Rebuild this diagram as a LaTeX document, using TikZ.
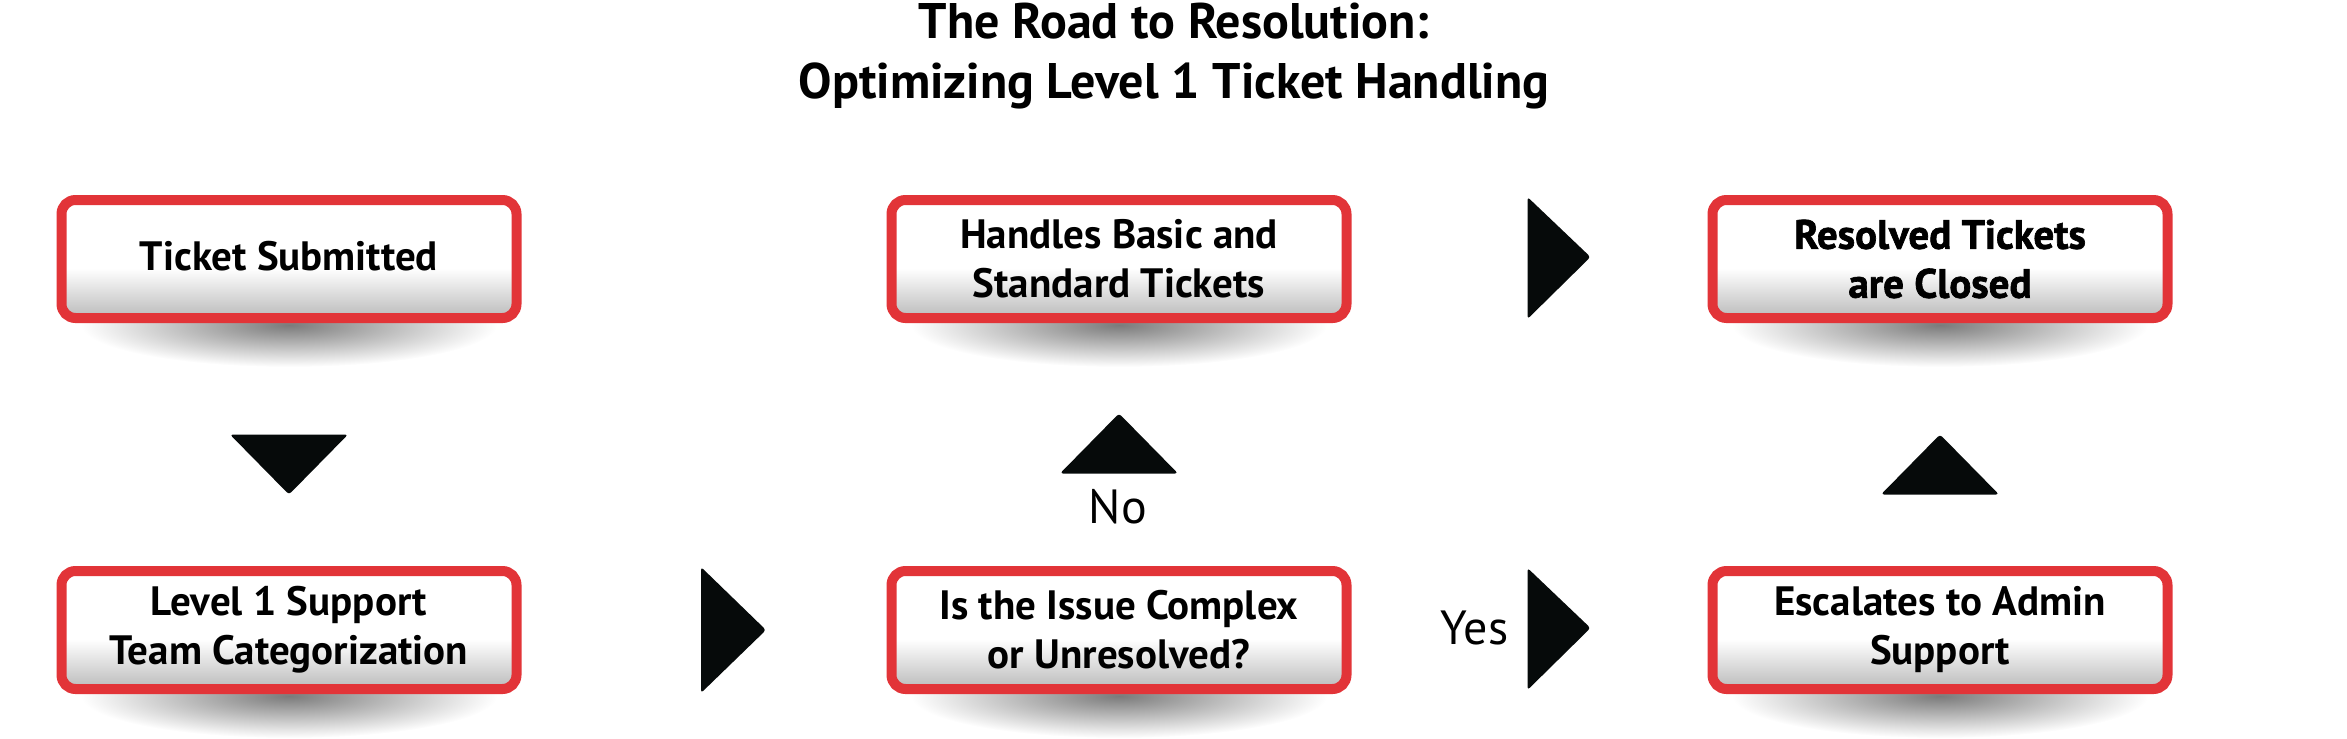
\documentclass[tikz,border=0pt]{standalone}
\usepackage{fontspec}
\setmainfont{PT Sans}
\newfontfamily\heavyfont[BoldFeatures={FakeBold=1.6}]{PT Sans}
\usetikzlibrary{calc,backgrounds}
\definecolor{boxred}{RGB}{226,52,56}
\definecolor{arrowblack}{RGB}{6,10,10}
\pgfdeclareverticalshading{boxfill}{100bp}{color(0bp)=(black!27); color(25bp)=(black!27);
  color(46bp)=(white); color(100bp)=(white)}

\tikzset{
  stepbox/.style={rectangle, rounded corners=7pt, draw=boxred, line width=5pt,
    shading=boxfill, minimum width=227.5pt, minimum height=59pt, align=center, text=black,
    font=\fontsize{20.5}{24.5}\selectfont\bfseries},
  pointer/.style={fill=arrowblack, rounded corners=1.5pt},
  answer/.style={font=\fontsize{24}{26}\selectfont, text=black}
}

\begin{document}
\begin{tikzpicture}[x=0.5pt, y=-0.5pt]
  \useasboundingbox (0,0) rectangle (2347,739);
  \node[font=\fontsize{25}{30}\selectfont\bfseries, align=center] (title) at (1174,56)
    {The Road to Resolution:\\Optimizing Level 1 Ticket Handling};

  % boxes
  \node[stepbox] (ticket) at (289,259) {\raisebox{3pt}{Ticket Submitted}};
  \node[stepbox] (handles) at (1119,259) {Handles Basic and\\Standard Tickets};
  \node[stepbox, font=\fontsize{20.5}{24.5}\selectfont\heavyfont\bfseries] (closed) at (1940,259)
    {Resolved Tickets\\are Closed};
  \node[stepbox] (level) at (289,630) {Level 1 Support\\Team Categorization};
  \node[stepbox] (complex) at (1119,630) {Is the Issue Complex\\or Unresolved?};
  \node[stepbox] (escalate) at (1940,630) {Escalates to Admin\\Support};

  % shadows under the boxes
  \begin{scope}[on background layer]
    \foreach \b in {ticket,handles,closed,level,complex,escalate}
      \shade[inner color=black!52, outer color=white] ($(\b.south)+(0,2)$) ellipse (104pt and 21pt);
  \end{scope}

  % pointers
  \coordinate (p1) at ($(ticket.south)!0.5!(level.north)$);
  \coordinate (p2) at ($(level.east)!0.5!(complex.west)$);
  \coordinate (p3) at ($(complex.north)!0.5!(handles.south)$);
  \coordinate (p4) at ($(complex.east)!0.5!(escalate.west)$);
  \coordinate (p5) at ($(handles.east)!0.5!(closed.west)$);
  \coordinate (p6) at ($(escalate.north)!0.5!(closed.south)$);
  \fill[pointer] ($(p1)+(-59,-10)$) -- ($(p1)+(59,-10)$) -- ($(p1)+(0,50)$) -- cycle;
  \fill[pointer] ($(p2)+(-3,-63)$) -- ($(p2)+(62,0)$) -- ($(p2)+(-3,63)$) -- cycle;
  \fill[pointer] ($(p3)+(-59,29)$) -- ($(p3)+(0,-31)$) -- ($(p3)+(59,29)$) -- cycle;
  \fill[pointer] ($(p4)+(-2,-62)$) -- ($(p4)+(61,-2)$) -- ($(p4)+(-2,60)$) -- cycle;
  \fill[pointer] ($(p5)+(-2,-62)$) -- ($(p5)+(61,-2)$) -- ($(p5)+(-2,60)$) -- cycle;
  \fill[pointer] ($(p6)+(-59,50)$) -- ($(p6)+(0,-10)$) -- ($(p6)+(59,50)$) -- cycle;

  \node[answer] (no) at ($(p3)+(-1,62)$) {No};
  \node[answer] (yes) at ($(p4)+(-55,-2)$) {Yes};
\end{tikzpicture}
\end{document}
